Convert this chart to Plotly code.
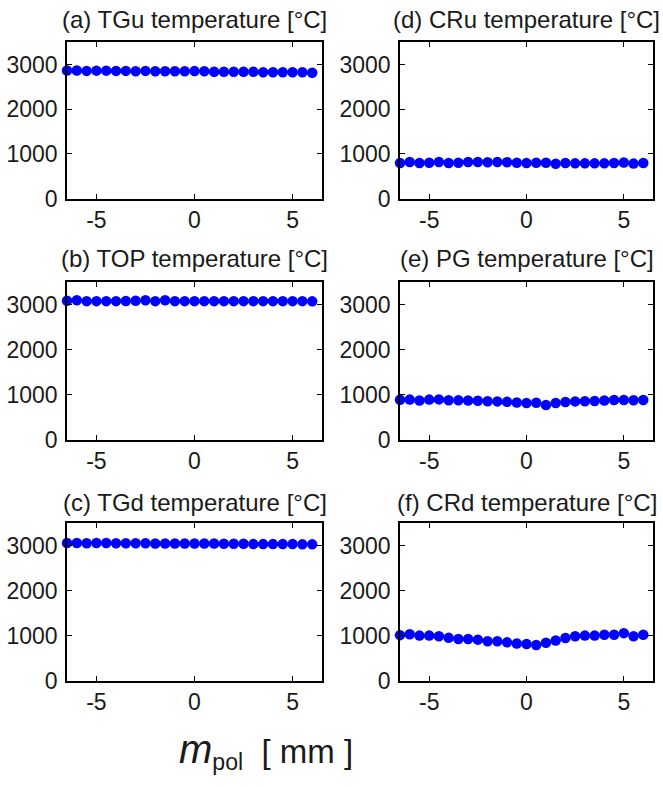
import plotly.graph_objects as go

# ---- data ----
m_pol = [-6.5, -6.0, -5.5, -5.0, -4.5, -4.0, -3.5, -3.0, -2.5, -2.0, -1.5, -1.0, -0.5,
         0.0, 0.5, 1.0, 1.5, 2.0, 2.5, 3.0, 3.5, 4.0, 4.5, 5.0, 5.5, 6.0]

tgu = [2870, 2870, 2860, 2865, 2865, 2860, 2860, 2850, 2860, 2850, 2850, 2850, 2850,
       2855, 2850, 2840, 2840, 2840, 2840, 2840, 2830, 2830, 2830, 2830, 2830, 2820]
top = [3090, 3100, 3080, 3080, 3080, 3080, 3085, 3090, 3100, 3080, 3100, 3080, 3080,
       3080, 3080, 3080, 3080, 3080, 3080, 3080, 3080, 3080, 3080, 3080, 3080, 3075]
tgd = [3060, 3060, 3055, 3060, 3060, 3055, 3055, 3055, 3055, 3050, 3050, 3050, 3050,
       3050, 3050, 3050, 3045, 3045, 3045, 3035, 3035, 3035, 3035, 3035, 3030, 3030]
cru = [800, 820, 800, 805, 820, 800, 805, 820, 820, 815, 820, 815, 805,
       800, 805, 805, 780, 800, 790, 790, 790, 790, 800, 810, 785, 800]
pg = [885, 890, 870, 890, 895, 875, 875, 870, 865, 855, 850, 840, 825,
      815, 820, 770, 815, 835, 850, 855, 860, 870, 880, 880, 875, 880]
crd = [1010, 1030, 1000, 1000, 985, 950, 925, 925, 910, 875, 875, 850, 825,
       815, 790, 840, 890, 945, 985, 1000, 1000, 1020, 1020, 1055, 985, 1020]

titles = ["(a) TGu temperature [°C]", "(b) TOP temperature [°C]", "(c) TGd temperature [°C]",
          "(d) CRu temperature [°C]", "(e) PG temperature [°C]", "(f) CRd temperature [°C]"]
series = [tgu, top, tgd, cru, pg, crd]

x_tickvals = [-5, 0, 5]
x_ticktext = ["-5", "0", "5"]
y_tickvals = [0, 1000, 2000, 3000]
y_ticktext = ["0", "1000", "2000", "3000"]

# ---- layout geometry ----
W, H = 663, 787
col_px = [(67, 322), (400, 653)]
row_px = [(43, 202), (287, 447), (532, 692)]
title_y_px = [20, 263, 511]

FONT = "Liberation Sans, Arial, sans-serif"
TXT = "#1a1a1a"

fig = go.Figure()
layout = dict(
    width=W, height=H, autosize=False,
    margin=dict(l=0, r=0, t=0, b=0, pad=0),
    paper_bgcolor="white", plot_bgcolor="white",
    showlegend=False,
    font=dict(family=FONT, color=TXT),
)
annotations = []

for i, (ys, title) in enumerate(zip(series, titles)):
    col = i // 3
    row = i % 3
    k = i + 1
    xa = "x" if k == 1 else f"x{k}"
    ya = "y" if k == 1 else f"y{k}"
    fig.add_trace(go.Scatter(
        x=m_pol, y=ys, mode="markers", xaxis=xa, yaxis=ya,
        marker=dict(color="#0000ff", size=10.5, line=dict(width=0)),
        cliponaxis=False,
    ))
    x0, x1 = col_px[col]
    y0, y1 = row_px[row]
    common = dict(
        showline=True, linecolor="black", linewidth=1.5, mirror="ticks",
        ticks="inside", ticklen=5, tickwidth=1.2, tickcolor="black",
        showgrid=False, zeroline=False,
        tickfont=dict(family=FONT, size=23, color=TXT),
    )
    layout["xaxis" if k == 1 else f"xaxis{k}"] = dict(
        common, domain=[x0 / W, x1 / W], range=[-6.5, 6.5],
        tickvals=x_tickvals, ticktext=x_ticktext, anchor=ya,
    )
    layout["yaxis" if k == 1 else f"yaxis{k}"] = dict(
        common, domain=[1 - y1 / H, 1 - y0 / H], range=[0, 3500],
        tickvals=y_tickvals, ticktext=y_ticktext, anchor=xa, ticklabelstandoff=3,
    )
    annotations.append(dict(
        text=title, xref="paper", yref="paper",
        x=(x0 + x1) / 2 / W, y=1 - title_y_px[row] / H,
        xanchor="center", yanchor="middle", showarrow=False,
        font=dict(family=FONT, size=24, color=TXT),
    ))

annotations.append(dict(
    text='<span style="font-size:40px"><i>m</i></span><sub>pol</sub>  [ mm ]',
    xref="paper", yref="paper", x=266 / W, y=1 - 764 / H,
    xanchor="center", yanchor="middle", showarrow=False,
    font=dict(family=FONT, size=33, color=TXT),
))
layout["annotations"] = annotations
fig.update_layout(**layout)
fig.write_html("out.html", config={"displayModeBar": False, "responsive": False})

css = ("<style>html,body{margin:0;padding:0;overflow:hidden;width:663px;height:787px;}"
       ".plotly-graph-div{position:fixed !important;top:0;left:0;}</style>")
with open("out.html", "r", encoding="utf-8") as f:
    html = f.read()
html = html.replace("<head>", "<head>" + css, 1)
with open("out.html", "w", encoding="utf-8") as f:
    f.write(html)
